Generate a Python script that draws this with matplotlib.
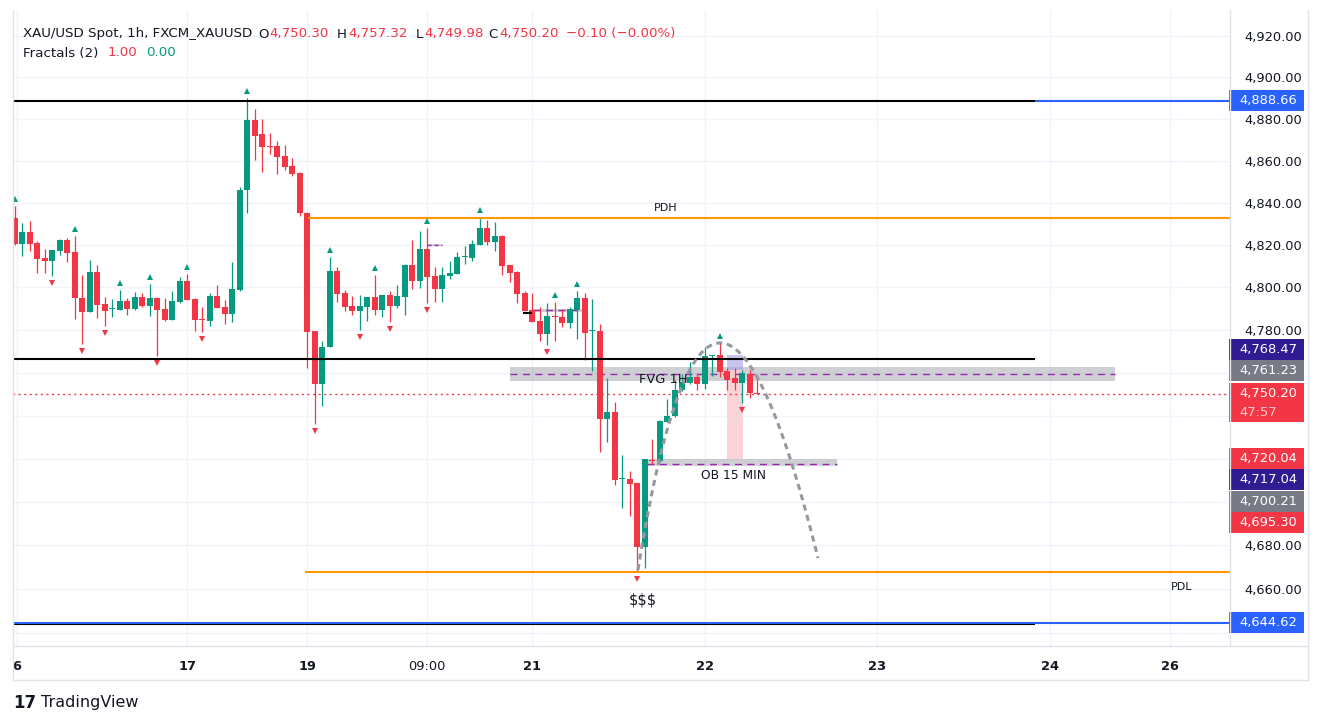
import numpy as np
import matplotlib
matplotlib.use('Agg')
import matplotlib.pyplot as plt
from matplotlib.patches import Rectangle
from matplotlib.ticker import FixedLocator, NullLocator, FuncFormatter
from matplotlib.transforms import offset_copy

W, H = 1322, 724

# hourly candles
opens = [4832.6, 4820.4, 4826.0, 4820.8, 4813.8, 4812.4, 4817.1, 4822.2, 4816.6, 4795.0,
         4788.5, 4807.2, 4792.1, 4789.7, 4789.5, 4793.6, 4789.9, 4795.4, 4791.4, 4795.0,
         4789.8, 4784.8, 4793.2, 4803.0, 4794.5, 4785.2, 4784.3, 4795.9, 4790.7, 4787.6,
         4798.6, 4846.0, 4879.7, 4872.6, 4866.8, 4867.0, 4862.3, 4857.6, 4854.4, 4835.3,
         4779.3, 4754.6, 4772.1, 4807.7, 4797.3, 4791.3, 4789.0, 4790.9, 4795.4, 4789.3,
         4796.4, 4791.2, 4795.6, 4810.5, 4803.1, 4818.0, 4805.3, 4799.3, 4805.3, 4806.3,
         4814.2, 4813.8, 4820.0, 4827.9, 4821.5, 4824.1, 4810.5, 4807.2, 4797.3, 4789.3,
         4784.1, 4778.0, 4786.5, 4786.0, 4783.3, 4789.3, 4795.0, 4779.3, 4779.4, 4738.6,
         4741.7, 4710.6, 4710.7, 4708.7, 4679.2, 4719.4, 4718.7, 4737.2, 4739.6, 4751.8,
         4755.4, 4757.8, 4754.5, 4767.9, 4768.1, 4760.6, 4757.3, 4755.3, 4759.2, 4750.30]
highs = [4838.4, 4830.3, 4831.2, 4821.8, 4818.0, 4817.6, 4822.7, 4823.2, 4824.3, 4805.8,
         4812.8, 4810.5, 4795.6, 4794.5, 4798.7, 4795.0, 4797.8, 4797.6, 4801.6, 4795.6,
         4795.0, 4798.3, 4804.8, 4806.3, 4795.0, 4790.7, 4797.3, 4801.1, 4794.2, 4812.0,
         4847.5, 4890.2, 4884.8, 4880.1, 4873.1, 4869.3, 4867.4, 4861.3, 4854.9, 4835.5,
         4779.5, 4774.7, 4814.3, 4809.6, 4798.7, 4795.9, 4796.4, 4795.6, 4805.8, 4796.6,
         4798.3, 4801.1, 4811.0, 4822.3, 4826.5, 4827.9, 4809.6, 4809.6, 4812.3, 4816.6,
         4819.4, 4822.3, 4833.1, 4831.7, 4830.7, 4824.6, 4810.7, 4807.7, 4798.3, 4797.3,
         4790.7, 4792.6, 4793.1, 4789.8, 4790.7, 4798.3, 4797.3, 4794.5, 4782.7, 4757.3,
         4746.4, 4721.6, 4714.5, 4708.9, 4719.9, 4729.1, 4737.8, 4747.5, 4756.4, 4759.2,
         4765.0, 4759.7, 4771.9, 4768.3, 4773.8, 4762.2, 4762.2, 4761.1, 4761.1, 4757.32]
lows = [4820.0, 4814.7, 4817.2, 4806.7, 4806.7, 4805.3, 4815.2, 4811.9, 4785.1, 4773.3,
        4788.3, 4785.5, 4781.9, 4786.2, 4789.3, 4787.1, 4789.6, 4790.8, 4786.5, 4767.8,
        4784.3, 4784.6, 4792.8, 4793.9, 4779.6, 4779.1, 4781.8, 4790.2, 4782.7, 4783.8,
        4798.3, 4835.0, 4860.4, 4854.9, 4863.5, 4853.9, 4855.7, 4853.0, 4834.0, 4762.0,
        4736.1, 4744.3, 4772.0, 4793.2, 4789.0, 4787.1, 4780.0, 4784.3, 4787.0, 4786.0,
        4783.8, 4790.3, 4787.0, 4799.3, 4799.7, 4792.8, 4793.2, 4793.2, 4803.9, 4806.1,
        4811.0, 4812.4, 4819.8, 4820.0, 4817.1, 4805.8, 4802.5, 4792.8, 4788.8, 4783.6,
        4774.7, 4772.8, 4774.7, 4781.3, 4780.8, 4775.7, 4765.7, 4760.7, 4723.1, 4727.8,
        4708.0, 4697.0, 4693.3, 4667.8, 4669.6, 4717.3, 4718.5, 4737.0, 4739.4, 4751.3,
        4754.5, 4752.1, 4752.6, 4758.4, 4758.0, 4752.1, 4751.8, 4746.0, 4748.2, 4749.98]
closes = [4820.4, 4826.0, 4820.4, 4813.3, 4812.4, 4817.6, 4822.4, 4816.1, 4794.8, 4788.5,
          4807.2, 4791.8, 4789.0, 4789.9, 4793.6, 4789.9, 4795.4, 4791.4, 4795.0, 4789.5,
          4784.8, 4793.6, 4803.0, 4794.2, 4784.8, 4784.9, 4795.8, 4790.4, 4787.6, 4799.2,
          4846.3, 4879.7, 4872.1, 4866.6, 4866.6, 4862.0, 4857.2, 4853.9, 4835.1, 4779.1,
          4754.6, 4772.2, 4807.7, 4797.0, 4790.9, 4789.0, 4791.3, 4795.4, 4789.5, 4796.4,
          4791.2, 4795.9, 4810.5, 4803.1, 4818.0, 4805.0, 4799.3, 4805.8, 4806.7, 4814.3,
          4814.4, 4820.4, 4827.9, 4821.5, 4824.1, 4810.2, 4806.7, 4797.0, 4789.0, 4783.8,
          4778.0, 4786.5, 4786.1, 4783.3, 4789.8, 4795.0, 4778.6, 4779.5, 4738.6, 4741.8,
          4709.9, 4710.8, 4708.5, 4679.2, 4719.7, 4719.1, 4737.6, 4740.0, 4752.1, 4755.6,
          4757.8, 4754.5, 4767.7, 4768.1, 4760.3, 4756.8, 4755.3, 4759.7, 4750.3, 4750.20]

fractal_up = [0, 8, 14, 18, 23, 31, 42, 48, 55, 62, 72, 75, 94]
fractal_down = [5, 9, 12, 19, 25, 40, 46, 50, 55, 71, 83, 97]

time_ticks = [0.3, 23, 39, 55, 69, 92, 115, 138, 154]
time_labels = ['6', '17', '19', '09:00', '21', '22', '23', '24', '26']
price_ticks = list(range(4640, 4921, 20))

# drawings on the chart
pdh_level = 4832.8
pdl_level = 4667.8
high_level = 4888.66
mid_level = 4766.2
low_level = 4644.62
last_price = 4750.20
fvg_zone = [4756.3, 4762.7]
ob_zone = [4716.7, 4719.8]
box_levels = [4720.04, 4761.23, 4768.47]
arc_x = [83.1, 92.7, 107.1]
arc_p = [4668.7, 4878.6, 4674.2]

scale_prices = [4888.66, 4768.47, 4761.23, 4720.04, 4717.04, 4700.21, 4695.30, 4644.62]
scale_colors = ['#2962ff', '#311b92', '#787b86', '#f23645', '#311b92', '#787b86', '#f23645', '#2962ff']

GREEN = '#089981'
RED = '#f23645'
TXT = '#131722'
GRID = '#f0f3fa'

plt.rcParams['font.family'] = ['DejaVu Sans']

fig = plt.figure(figsize=(W / 100, H / 100), dpi=100)
fig.patch.set_facecolor('white')

left, right, top, bottom = 12.6, 1230, 10, 646
ax = fig.add_axes([left / W, (H - bottom) / H, (right - left) / W, (bottom - top) / H])
ax.set_yscale('log')
ax.set_xlim(-0.28, 162.04)
ax.set_ylim(4634.0, 4932.5)
for s in ax.spines.values():
    s.set_visible(False)


def img_y(p):
    return H - ax.transData.transform((0, p))[1]


# where the price-scale boxes go (stacked so they don't overlap)
yc_last = img_y(last_price)
boxes = [(yc_last, 38.7, RED, f'{last_price:,.2f}', '47:57')]
above = sorted([(p, cl) for p, cl in zip(scale_prices, scale_colors) if p > last_price])
below = sorted([(p, cl) for p, cl in zip(scale_prices, scale_colors) if p < last_price], reverse=True)
edge = yc_last - 10.5
for p, cl in above:
    yc = min(img_y(p), edge - 10.5)
    boxes.append((yc, 21, cl, f'{p:,.2f}', None))
    edge = yc - 10.5
edge = yc_last - 10.5 + 38.7
for p, cl in below:
    yc = max(img_y(p), edge + 10.5)
    boxes.append((yc, 21, cl, f'{p:,.2f}', None))
    edge = yc + 10.5


def tick_label(v, _):
    y = img_y(v)
    for yc, h, *_rest in boxes:
        if yc - 10.5 - 7 < y < yc - 10.5 + h + 7:
            return ''
    return f'{v:,.2f}'


ax.yaxis.tick_right()
ax.yaxis.set_major_locator(FixedLocator(price_ticks))
ax.yaxis.set_minor_locator(NullLocator())
ax.yaxis.set_major_formatter(FuncFormatter(tick_label))
ax.tick_params(axis='y', length=0, pad=10, labelsize=9.4, labelcolor=TXT)
ax.set_xticks(time_ticks)
ax.set_xticklabels(time_labels)
ax.tick_params(axis='x', length=0, pad=10, labelsize=9.4, labelcolor=TXT)
for lab in ax.get_xticklabels():
    if ':' not in lab.get_text():
        lab.set_fontweight('bold')
ax.grid(True, color=GRID, lw=1, zorder=0)
ax.set_axisbelow(True)

n = len(opens)
xs = np.arange(n)
o = np.array(opens)
c = np.array(closes)
cols = [GREEN if cc >= oo else RED for oo, cc in zip(o, c)]

# zones (behind candles)
ax.add_patch(Rectangle((66.0, fvg_zone[0]), 146.7 - 66.0, fvg_zone[1] - fvg_zone[0],
                       fc='#787b86', alpha=0.35, lw=0, zorder=1))
ax.hlines(sum(fvg_zone) / 2, 66.0, 146.7, color='#9c27b0', lw=1, linestyles=(0, (5, 4)), zorder=2)
ax.add_patch(Rectangle((84.3, ob_zone[0]), 109.6 - 84.3, ob_zone[1] - ob_zone[0],
                       fc='#787b86', alpha=0.35, lw=0, zorder=1))
ax.hlines(4717.6, 84.3, 109.6, color='#9c27b0', lw=1, linestyles=(0, (5, 4)), zorder=2)
ax.add_patch(Rectangle((69.1, 4788.4), 6.5, 1.6, fc='#787b86', alpha=0.35, lw=0, zorder=1))
ax.hlines(4789.2, 69.1, 75.6, color='#9c27b0', lw=1, linestyles=(0, (5, 4)), zorder=2)
ax.add_patch(Rectangle((55.0, 4819.5), 2.0, 1.2, fc='#787b86', alpha=0.35, lw=0, zorder=1))
ax.hlines(4820.1, 55.0, 57.0, color='#9c27b0', lw=1, linestyles=(0, (3, 2)), zorder=2)
ax.add_patch(Rectangle((95.0, box_levels[0]), 2.1, box_levels[1] - box_levels[0],
                       fc='#f8cdd1', alpha=0.85, lw=0, zorder=1.5))
ax.add_patch(Rectangle((95.0, box_levels[1]), 2.1, box_levels[2] - box_levels[1],
                       fc='#a79fe0', alpha=0.6, lw=0, zorder=1.5))

# candles
ax.vlines(xs, lows, highs, color=cols, lw=0.9, zorder=3)
body_bot = np.minimum(o, c)
body_h = np.maximum(np.abs(c - o), 0.45)
ax.bar(xs, body_h, bottom=body_bot, width=0.78, color=cols, lw=0, zorder=3)

# fractals
up_tr = offset_copy(ax.transData, fig=fig, x=0, y=7, units='dots')
dn_tr = offset_copy(ax.transData, fig=fig, x=0, y=-7, units='dots')
ax.plot(fractal_up, [highs[i] for i in fractal_up], ls='none', marker='^', ms=5,
        color=GREEN, mew=0, transform=up_tr, zorder=4)
ax.plot(fractal_down, [lows[i] for i in fractal_down], ls='none', marker='v', ms=5,
        color=RED, mew=0, transform=dn_tr, zorder=4)

# horizontal levels
xr = 162.04
ax.hlines(high_level, 136.0, xr, color='#2962ff', lw=1.5, zorder=4)
ax.hlines(high_level, -1, 136.0, color='black', lw=1.5, zorder=4)
ax.hlines(mid_level, -1, 136.0, color='black', lw=1.5, zorder=4)
ax.hlines(4643.9, -1, 136.0, color='black', lw=1.5, zorder=4)
ax.hlines(low_level, -1, xr, color='#2962ff', lw=1.5, zorder=4)
ax.hlines(pdh_level, 39.1, xr, color='#ff9800', lw=1.5, zorder=4)
ax.hlines(pdl_level, 38.7, xr, color='#ff9800', lw=1.5, zorder=4)
ax.hlines(4787.9, 67.8, 69.0, color='black', lw=1.5, zorder=4)
ax.hlines(last_price, -1, xr, color=RED, lw=1, linestyles=(0, (1.5, 2.5)), zorder=2)

# curve drawing (quadratic bezier)
t = np.linspace(0, 1, 120)
bx = (1 - t) ** 2 * arc_x[0] + 2 * (1 - t) * t * arc_x[1] + t ** 2 * arc_x[2]
lp = np.log(arc_p)
by = np.exp((1 - t) ** 2 * lp[0] + 2 * (1 - t) * t * lp[1] + t ** 2 * lp[2])
ax.plot(bx, by, color='#9598a1', lw=2.2, ls=(0, (2, 1.5)), zorder=5)

# text on the chart
ax.text(86.8, 4837.6, 'PDH', fontsize=8, color=TXT, ha='center', va='center', zorder=6)
ax.text(155.6, 4660.9, 'PDL', fontsize=8, color=TXT, ha='center', va='center', zorder=6)
ax.text(83.8, 4655.1, '$$$', fontsize=10.5, color=TXT, ha='center', va='center', zorder=6)
ax.text(83.2, 4756.6, 'FVG 1H', fontsize=9.4, color=TXT, ha='left', va='center', zorder=6)
ax.text(95.9, 4712.0, 'OB 15 MIN', fontsize=8.8, color=TXT, ha='center', va='center', zorder=6)


# frame lines
def fline(x0, y0, x1, y1, col='#e0e3eb', lw=1):
    fig.add_artist(plt.Line2D([x0 / W, x1 / W], [1 - y0 / H, 1 - y1 / H],
                              transform=fig.transFigure, color=col, lw=lw))


fline(12.5, 10, 12.5, 680)
fline(1308, 10, 1308, 680)
fline(12.5, 680, 1308, 680)
fline(12.5, 646, 1308, 646)
fline(1230, 10, 1230, 646)

# price scale boxes
for yc, h, col, txt, sub in boxes:
    y0 = yc - 10.5
    fig.add_artist(Rectangle((1229 / W, 1 - (y0 + h) / H), 75 / W, h / H,
                             transform=fig.transFigure, fc=col, ec='none'))
    fig.text(1239 / W, 1 - yc / H, txt, color='white', fontsize=9.4, va='center', ha='left')
    if sub:
        fig.text(1239 / W, 1 - (yc + 19) / H, sub, color='#fbc9cd', fontsize=9.4,
                 va='center', ha='left')

# legend
fs = 9.6
fig.text(23 / W, 1 - 34 / H, 'XAU/USD Spot, 1h, FXCM_XAUUSD', color=TXT, fontsize=fs, va='center')
parts = [(258, 'O', TXT), (269, '4,750.30', RED), (337, 'H', TXT), (348, '4,757.32', RED),
         (416, 'L', TXT), (424, '4,749.98', RED), (488, 'C', TXT), (499, '4,750.20', RED),
         (566, '\u22120.10 (\u22120.00%)', RED)]
for x, s, col in parts:
    fig.text(x / W, 1 - 34 / H, s, color=col, fontsize=fs, va='center')
fig.text(23 / W, 1 - 53 / H, 'Fractals (2)', color=TXT, fontsize=fs, va='center')
fig.text(108 / W, 1 - 53 / H, '1.00', color=RED, fontsize=fs, va='center')
fig.text(146 / W, 1 - 53 / H, '0.00', color=GREEN, fontsize=fs, va='center')

# watermark
fig.text(13 / W, 1 - 703 / H, '17', color=TXT, fontsize=12, fontweight='heavy', va='center')
fig.text(41 / W, 1 - 703 / H, 'TradingView', color=TXT, fontsize=11.5, va='center')

fig.savefig('out.png', dpi=100)
